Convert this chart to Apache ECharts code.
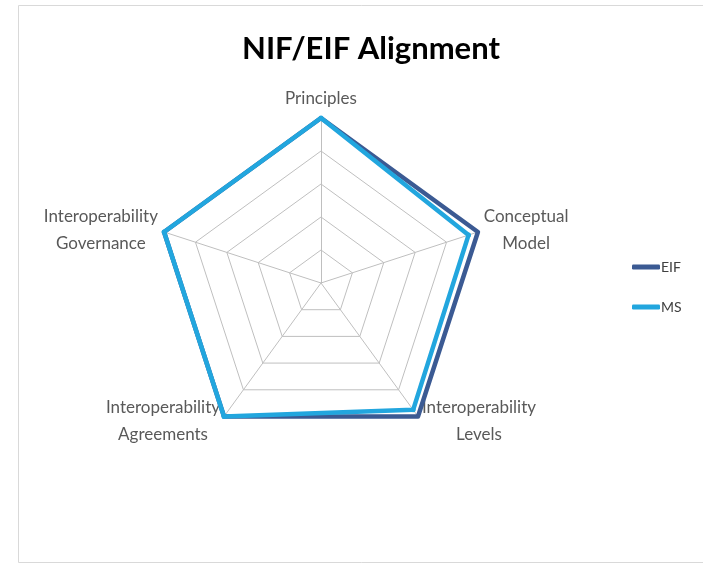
<!DOCTYPE html>
<html>
<head>
<meta charset="utf-8">
<script src="https://cdn.jsdelivr.net/npm/echarts@6/dist/echarts.min.js"></script>
<style>
html, body { margin: 0; padding: 0; background: #fff; }
#chart { width: 703px; height: 565px; }
</style>
</head>
<body>
<div id="chart"></div>
<script>
// axes of the radar, counter-clockwise from top (echarts goes that way)
const indicators = ['Principles', 'Interoperability\nGovernance', 'Interoperability\nAgreements', 'Interoperability\nLevels', 'Conceptual\nModel'];
const axisMax = 5;
const eifValues = [5, 5, 5, 5, 5];
const msValues = [5, 5, 5, 4.75, 4.7];

const labelFont = 17;
// measure each label so its lines can be centred on each other
const ctx = document.createElement('canvas').getContext('2d');
ctx.font = labelFont + 'px Lato';
const labelWidth = name => Math.ceil(Math.max(...name.split('\n').map(l => ctx.measureText(l).width)));

const rich = {};
indicators.forEach((name, i) => {
    rich['c' + i] = { width: labelWidth(name), align: 'center', fontSize: labelFont, lineHeight: 27, color: '#595959', fontFamily: 'Lato' };
});

const chart = echarts.init(document.getElementById('chart'));
chart.setOption({
    animation: false,
    textStyle: { fontFamily: 'Lato' },
    title: {
        text: 'NIF/EIF Alignment',
        left: 366,
        top: 28,
        textAlign: 'center',
        textStyle: { fontFamily: 'Lato', fontWeight: 'bold', fontSize: 31, color: '#000' }
    },
    graphic: [{
        type: 'rect',
        shape: { x: 18.5, y: 5.5, width: 700, height: 557 },
        style: { fill: 'none', stroke: '#d9d9d9', lineWidth: 1 },
        silent: true
    }],
    legend: {
        orient: 'vertical',
        left: 627,
        top: 255,
        itemGap: 26,
        itemWidth: 28,
        itemHeight: 5,
        icon: 'roundRect',
        textStyle: { fontSize: 14, color: '#404040', padding: [0, 0, 0, -4] },
        data: ['EIF', 'MS']
    },
    radar: {
        center: [321, 283],
        radius: 165,
        startAngle: 90,
        splitNumber: 5,
        shape: 'polygon',
        nameGap: 6,
        axisName: {
            formatter: (value) => {
                const i = indicators.indexOf(value);
                return value.split('\n').map(l => '{c' + i + '|' + l + '}').join('\n');
            },
            rich: rich
        },
        indicator: indicators.map(name => ({ name: name, max: axisMax, min: 0 })),
        splitLine: { lineStyle: { color: '#bfbfbf', width: 1 } },
        splitArea: { show: false },
        axisLine: { lineStyle: { color: '#bfbfbf', width: 1 } }
    },
    series: [{
        type: 'radar',
        data: [
            {
                name: 'EIF',
                value: eifValues,
                symbol: 'none',
                lineStyle: { color: '#3b5a93', width: 4.5 },
                itemStyle: { color: '#3b5a93' }
            },
            {
                name: 'MS',
                value: msValues,
                symbol: 'circle',
                symbolSize: 5,
                lineStyle: { color: '#22a6de', width: 4.5 },
                itemStyle: { color: '#22a6de' }
            }
        ]
    }]
});
</script>
</body>
</html>
